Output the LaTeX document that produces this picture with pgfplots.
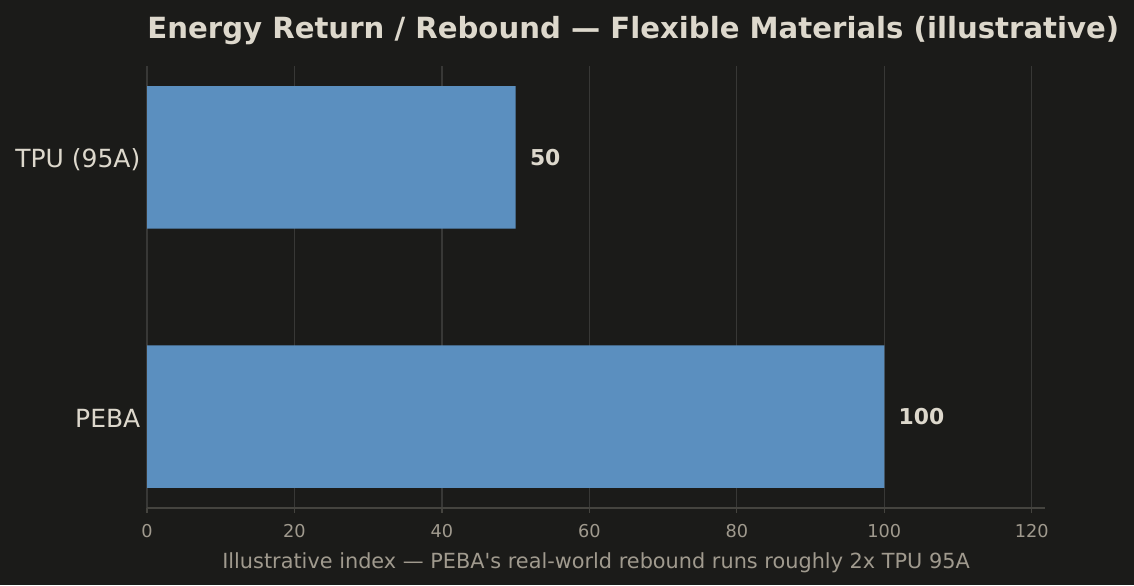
\documentclass[border=0pt]{standalone}
\usepackage{pgfplots}
\pgfplotsset{compat=1.18}
\usepackage{fontspec}
\setmainfont{DejaVu Sans}

\definecolor{bg}{HTML}{1B1B19}
\definecolor{barblue}{HTML}{5B8FBF}
\definecolor{titlecol}{HTML}{DDD8CC}
\definecolor{tickcol}{HTML}{A09A8E}
\definecolor{gridcol}{HTML}{383836}
\definecolor{spinecol}{HTML}{45443F}

% 1 px of the reference = 0.48pt
\newlength{\px}
\setlength{\px}{0.48pt}

\begin{document}
\begin{tikzpicture}
\fill[bg] (0,0) rectangle (1134\px,585\px);
\begin{axis}[
  at={(147\px,77\px)}, anchor=south west,
  scale only axis,
  clip=false,
  width=898\px, height=442\px,
  xbar,
  bar width=0.55,
  xmin=0, xmax=121.8,
  ymin=-0.353, ymax=1.353,
  ytick={0,1},
  yticklabels={PEBA, TPU (95A)},
  xtick={0,20,40,60,80,100,120},
  /pgf/number format/assume math mode=true,
  axis x line*=bottom,
  axis y line*=left,
  x axis line style={draw=spinecol, line width=1pt, -},
  y axis line style={draw=none},
  ytick style={draw=none},
  xtick style={draw=spinecol, line width=0.6pt},
  tick align=outside,
  major tick length=5\px,
  xmajorgrids,
  grid style={draw=gridcol, line width=0.6pt},
  ticklabel style={inner sep=0pt},
  xticklabel style={font=\fontsize{8.5}{10}\selectfont, text=tickcol, anchor=base, yshift=-11.9pt},
  yticklabel style={font=\fontsize{12}{14}\selectfont, text=titlecol, anchor=east, xshift=-0.6pt, yshift=-1pt},
  xlabel={Illustrative index — PEBA\textquotesingle s real-world rebound runs roughly 2x TPU 95A},
  xlabel style={font=\fontsize{10}{12}\selectfont, text=tickcol, at={(rel axis cs:0.5,0)}, anchor=base, yshift=-28.8pt, inner sep=0pt},
  nodes near coords,
  nodes near coords style={font=\fontsize{10.5}{12}\selectfont\bfseries, text=titlecol, anchor=west, inner sep=0pt, xshift=6.7pt},
  point meta=explicit symbolic,
]
\addplot[fill=barblue, draw=none] coordinates {
  (100,0) [100]
  (50,1) [50]
};
\node[anchor=base west, inner sep=0pt, font=\fontsize{14}{16}\selectfont\bfseries, text=titlecol]
  at (rel axis cs:0,1) [yshift=27\px] {Energy Return / Rebound — Flexible Materials (illustrative)};
\end{axis}
\end{tikzpicture}
\end{document}
